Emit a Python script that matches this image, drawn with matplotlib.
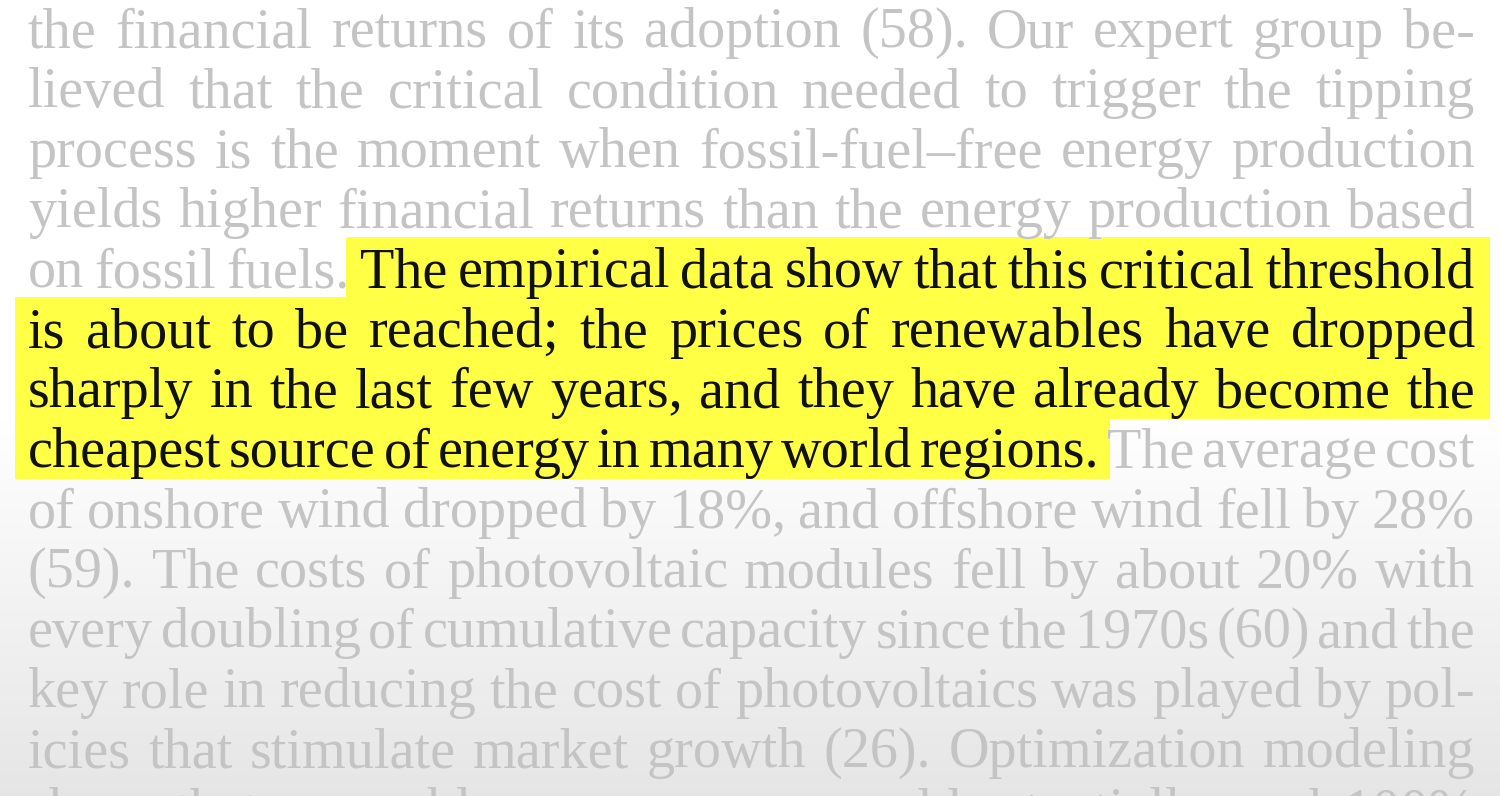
import numpy as np
import matplotlib
matplotlib.use("Agg")
import matplotlib.pyplot as plt
from matplotlib.patches import Rectangle

# ── Text content ──────────────────────────────────────────────────────────────
LINES = [
    "the financial returns of its adoption (58). Our expert group be-",
    "lieved that the critical condition needed to trigger the tipping",
    "process is the moment when fossil-fuel\u2013free energy production",
    "yields higher financial returns than the energy production based",
    "on fossil fuels. The empirical data show that this critical threshold",
    "is about to be reached; the prices of renewables have dropped",
    "sharply in the last few years, and they have already become the",
    "cheapest source of energy in many world regions. The average cost",
    "of onshore wind dropped by 18%, and offshore wind fell by 28%",
    "(59). The costs of photovoltaic modules fell by about 20% with",
    "every doubling of cumulative capacity since the 1970s (60) and the",
    "key role in reducing the cost of photovoltaics was played by pol-",
    "icies that stimulate market growth (26). Optimization modeling",
    "shows that renewable energy sources could potentially reach 100%",
]
# (line index) -> (first highlighted word, last highlighted word exclusive)
HIGHLIGHT = {4: (3, 12), 5: (0, 11), 6: (0, 13), 7: (0, 8)}

LEFT, RIGHT = 28, 1475
BASE0, STEP = 47, 60
FONT = "Liberation Serif"
SIZE = 40.5
GREY = "#c4c4c4"
BLACK = "#111111"

fig = plt.figure(figsize=(15, 7.96), dpi=100)
ax = fig.add_axes([0, 0, 1, 1])
ax.set_xlim(0, 1500)
ax.set_ylim(796, 0)
ax.axis("off")

# background: white on top, fading to light grey at the bottom
grad = np.ones((796, 1))
yy = np.arange(796)
grad[:, 0] = np.where(yy < 420, 1.0, 1.0 - 0.1 * np.clip((yy - 420) / 376, 0, 1))
ax.imshow(np.repeat(grad[:, :, None], 3, axis=2), extent=[0, 1500, 796, 0],
          aspect="auto", zorder=0)

renderer = fig.canvas.get_renderer()

for i, line in enumerate(LINES):
    words = line.split(" ")
    base = BASE0 + i * STEP
    hl = HIGHLIGHT.get(i)
    texts = []
    for j, w in enumerate(words):
        col = BLACK if hl and hl[0] <= j < hl[1] else GREY
        t = ax.text(0, base, w, fontsize=SIZE, family=FONT, color=col,
                    ha="left", va="baseline", zorder=3)
        texts.append(t)
    widths = [t.get_window_extent(renderer).width for t in texts]
    gap = (RIGHT - LEFT - sum(widths)) / (len(words) - 1)
    x = LEFT
    xs = []
    for t, wd in zip(texts, widths):
        t.set_x(x)
        xs.append((x, x + wd))
        x += wd + gap
    if hl:
        x0 = xs[hl[0]][0] - (14 if hl[0] else 13)
        x1 = 1490 if hl[1] >= len(words) else xs[hl[1] - 1][1] + 10
        ax.add_patch(Rectangle((x0, base - 50), x1 - x0, 62,
                               facecolor="#ffff45", edgecolor="none", zorder=2))

fig.savefig("out.png", dpi=100)
